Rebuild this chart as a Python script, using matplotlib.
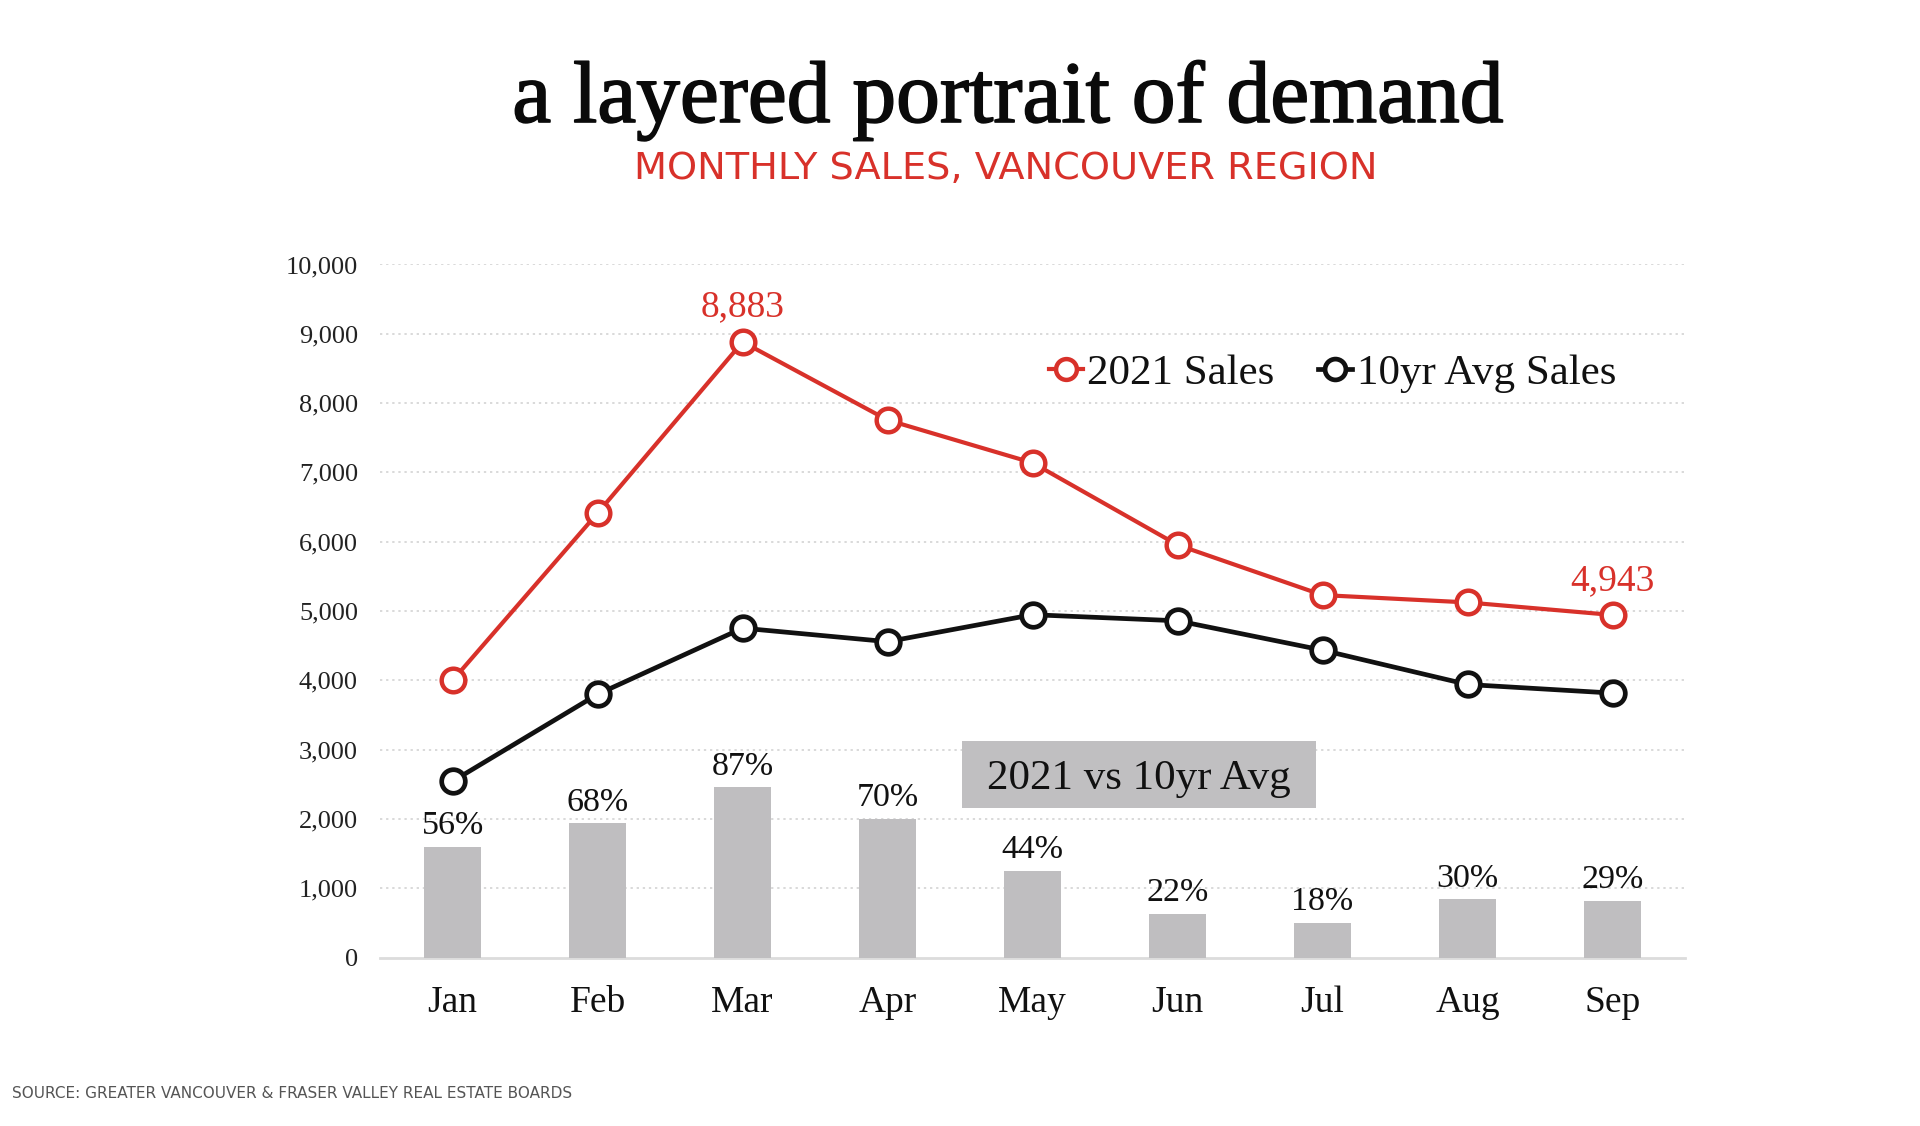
import matplotlib
matplotlib.use("Agg")
import matplotlib.pyplot as plt
from matplotlib.patches import Rectangle
from matplotlib.lines import Line2D
import matplotlib.patheffects as pe

months = ["Jan", "Feb", "Mar", "Apr", "May", "Jun", "Jul", "Aug", "Sep"]
sales_2021 = [4000, 6414, 8883, 7756, 7138, 5954, 5230, 5124, 4943]
avg_10yr = [2544, 3799, 4753, 4558, 4947, 4859, 4435, 3940, 3816]
pct_labels = ["56%", "68%", "87%", "70%", "44%", "22%", "18%", "30%", "29%"]
bar_heights = [1602, 1939, 2459, 2006, 1251, 631, 505, 843, 823]
y_ticks = [0, 1000, 2000, 3000, 4000, 5000, 6000, 7000, 8000, 9000, 10000]
y_tick_labels = ["0", "1,000", "2,000", "3,000", "4,000", "5,000", "6,000",
                 "7,000", "8,000", "9,000", "10,000"]

RED = "#d8312a"
BLACK = "#111111"
BAR = "#bfbec0"
SERIF = "Liberation Serif"
SANS = "DejaVu Sans"

fig = plt.figure(figsize=(19.2, 11.26), dpi=100)
fig.patch.set_facecolor("white")
ax = fig.add_axes([0.198, 0.1496, 0.6796, 0.6155])

x = list(range(len(months)))

# gridlines
for yv in y_ticks[1:]:
    ax.axhline(yv, color="#cfcfcf", lw=1.1, ls=(0, (1.5, 2.5)), zorder=0)

ax.bar(x, bar_heights, width=0.39, color=BAR, zorder=2)
for xi, h, lab in zip(x, bar_heights, pct_labels):
    ax.annotate(lab, (xi, h), xytext=(0, 9), textcoords="offset points",
                ha="center", va="baseline", fontsize=24.5, family=SERIF,
                color=BLACK, zorder=5)

ax.plot(x, sales_2021, color=RED, lw=3.0, marker="o", ms=17,
        mfc="white", mec=RED, mew=3.2, zorder=4, clip_on=False,
        label="2021 Sales")
ax.plot(x, avg_10yr, color=BLACK, lw=3.4, marker="o", ms=17,
        mfc="white", mec=BLACK, mew=3.4, zorder=4, clip_on=False,
        label="10yr Avg Sales")

ax.annotate(f"{sales_2021[2]:,}", (2, sales_2021[2]), xytext=(0, 18.5),
            textcoords="offset points", ha="center", va="baseline",
            fontsize=27, family=SERIF, color=RED)
ax.annotate(f"{sales_2021[8]:,}", (8, sales_2021[8]), xytext=(0, 17.5),
            textcoords="offset points", ha="center", va="baseline",
            fontsize=27, family=SERIF, color=RED)

# label box
box = Rectangle((3.516, 2155), 5.953 - 3.516, 3127 - 2155,
                facecolor="#c0bfc1", edgecolor="none", zorder=3)
ax.add_patch(box)
ax.text((3.516 + 5.953) / 2, (2155 + 3127) / 2 - 60, "2021 vs 10yr Avg",
        ha="center", va="center", fontsize=31, family=SERIF, color=BLACK,
        zorder=5)

ax.set_xlim(-0.5, 8.5)
ax.set_ylim(0, 10000)
ax.set_xticks(x)
ax.set_xticklabels(months, fontsize=27, family=SERIF, color=BLACK)
ax.set_yticks(y_ticks)
ax.set_yticklabels(y_tick_labels, fontsize=19, family=SERIF, color="#222222")
ax.tick_params(axis="both", length=0)
ax.tick_params(axis="x", pad=20)
ax.tick_params(axis="y", pad=16)
for s in ["top", "right", "left"]:
    ax.spines[s].set_visible(False)
ax.spines["bottom"].set_color("#dcdcdc")
ax.spines["bottom"].set_linewidth(2)
ax.spines["bottom"].set_zorder(1)

handles = [
    Line2D([], [], color=RED, lw=3.0, marker="o", ms=15, mfc="white",
           mec=RED, mew=3.2),
    Line2D([], [], color=BLACK, lw=3.4, marker="o", ms=15, mfc="white",
           mec=BLACK, mew=3.4),
]
leg = fig.legend(handles, ["2021 Sales", "10yr Avg Sales"], loc="center left",
                 bbox_to_anchor=(1010 / 1920, 1 - 373 / 1126), ncol=2,
                 frameon=False, handlelength=0.8, handletextpad=0.1,
                 columnspacing=1.0, prop={"family": SERIF, "size": 31})
for t in leg.get_texts():
    t.set_color(BLACK)

fig.text(1008 / 1920, 1 - 122 / 1126, "a layered portrait of demand",
         ha="center", va="baseline", fontsize=63, family=SERIF,
         color="#0a0a0a",
         path_effects=[pe.withStroke(linewidth=1.2, foreground="#0a0a0a")])
fig.text(1006 / 1920, 1 - 179 / 1126, "MONTHLY SALES, VANCOUVER REGION",
         ha="center", va="baseline", fontsize=27.5, family=SANS, color=RED)
fig.text(12 / 1920, 1 - 1098 / 1126,
         "SOURCE: GREATER VANCOUVER & FRASER VALLEY REAL ESTATE BOARDS",
         ha="left", va="baseline", fontsize=11, family=SANS, color="#555555")

fig.savefig("out.png", dpi=100, facecolor="white")
